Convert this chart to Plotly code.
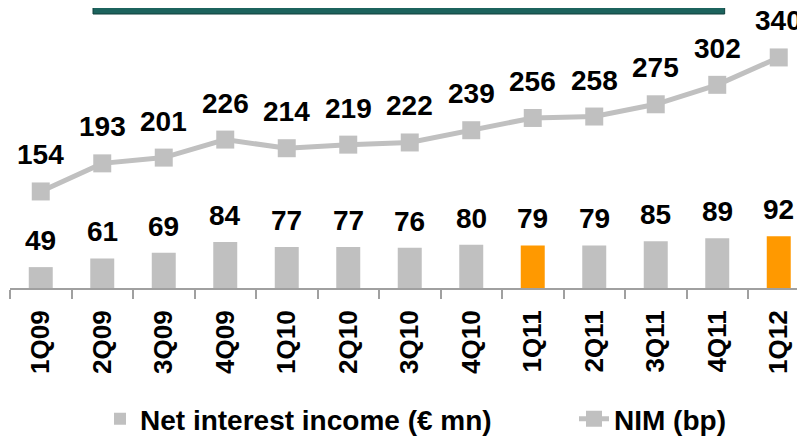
import plotly.graph_objects as go

quarters = ['1Q09', '2Q09', '3Q09', '4Q09', '1Q10', '2Q10', '3Q10',
            '4Q10', '1Q11', '2Q11', '3Q11', '4Q11', '1Q12']
nii = [49, 61, 69, 84, 77, 77, 76, 80, 79, 79, 85, 89, 92]
nim = [154, 193, 201, 226, 214, 219, 222, 239, 256, 258, 275, 302, 340]
highlight = ['1Q11', '1Q12']

GREY = '#c0c0c0'
ORANGE = '#ff9900'
FONT = 'Liberation Sans, Arial, sans-serif'

bar_colors = [ORANGE if q in highlight else GREY for q in quarters]

fig = go.Figure()

fig.add_trace(go.Bar(
    x=quarters, y=nii, name='Net interest income (€ mn)',
    marker=dict(color=bar_colors, line=dict(width=0)),
    width=0.39, legend='legend',
))

fig.add_trace(go.Scatter(
    x=quarters, y=nim, name='NIM (bp)', mode='lines+markers',
    line=dict(color=GREY, width=5),
    marker=dict(symbol='square', size=18, color=GREY),
    cliponaxis=False, legend='legend2',
))

# value labels
label_font = dict(family=FONT, size=28, color='black', weight='bold')
for q, v in zip(quarters, nii):
    fig.add_annotation(x=q, y=v, text=str(v), showarrow=False,
                       yanchor='bottom', yshift=9, font=label_font)
for q, v in zip(quarters, nim):
    fig.add_annotation(x=q, y=v, text=str(v), showarrow=False,
                       yanchor='bottom', yshift=19, font=label_font)

# title banner remnant at the top
fig.add_shape(type='rect', xref='paper', yref='paper',
              x0=0.1034, x1=0.890, y0=1.062, y1=1.09,
              fillcolor='#1c635d', line=dict(color='#0e3f3b', width=1))

legend_common = dict(
    orientation='h', xref='container', yref='container',
    y=0.057, xanchor='left', yanchor='middle',
    font=dict(family=FONT, size=28, color='black', weight='bold'),
    bgcolor='rgba(0,0,0,0)',
)

# the page adds an 8px body margin, so the figure is pulled up/left by that
fig.update_layout(
    width=805, height=436,
    margin=dict(l=2, r=0, t=22, b=156, autoexpand=False),
    paper_bgcolor='white', plot_bgcolor='white',
    showlegend=True,
    legend=dict(x=92 / 805, **legend_common),
    legend2=dict(x=566 / 805, **legend_common),
    xaxis=dict(
        range=[-0.5, 12.557],
        showline=True, linecolor='#a0a0a0', linewidth=2,
        ticks='outside', tickson='boundaries', ticklen=9,
        tickcolor='#a0a0a0', tickwidth=2,
        tickangle=-90, ticklabelstandoff=10,
        tickfont=dict(family=FONT, size=26, color='black', weight='bold'),
        showgrid=False, zeroline=False,
    ),
    yaxis=dict(
        range=[20, 378.1], visible=False, showgrid=False, zeroline=False,
    ),
)

fig.write_html('out.html')
